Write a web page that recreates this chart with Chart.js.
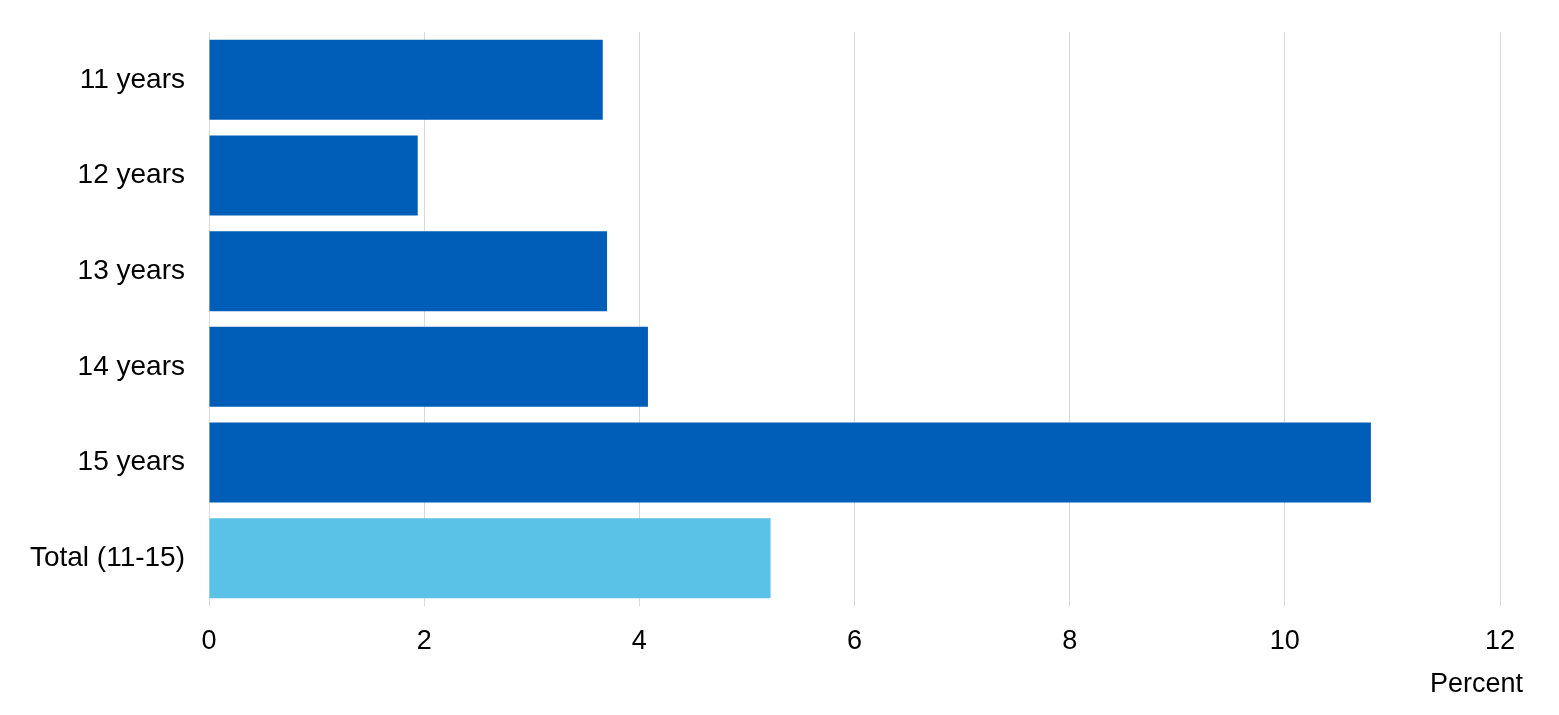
<!DOCTYPE html>
<html>
<head>
<meta charset="utf-8">
<script src="https://cdn.jsdelivr.net/npm/chart.js@4/dist/chart.umd.min.js"></script>
<style>
  html, body { margin: 0; padding: 0; background: #fff; }
  #wrap { width: 1559px; height: 715px; position: relative; }
</style>
</head>
<body>
<div id="wrap"><canvas id="c" width="1559" height="715"></canvas></div>
<script>
const categories = ["11 years", "12 years", "13 years", "14 years", "15 years", "Total (11-15)"];
const values = [3.66, 1.94, 3.70, 4.08, 10.80, 5.22];
const barColors = ["#005EB8", "#005EB8", "#005EB8", "#005EB8", "#005EB8", "#5BC2E7"];
const xTicks = [0, 2, 4, 6, 8, 10, 12];
const xTitle = "Percent";

const FONT = "'Liberation Sans', Arial, Helvetica, sans-serif";

const titlePlugin = {
  id: 'xTitle',
  afterDraw(chart) {
    const ctx = chart.ctx;
    const xs = chart.scales.x;
    ctx.save();
    ctx.font = "27px " + FONT;
    ctx.fillStyle = "#000";
    ctx.textAlign = "right";
    ctx.textBaseline = "middle";
    ctx.fillText(xTitle, xs.right + 23, 685);
    ctx.restore();
  }
};

new Chart(document.getElementById('c'), {
  type: 'bar',
  data: {
    labels: categories,
    datasets: [{
      data: values,
      backgroundColor: barColors,
      borderWidth: 0,
      categoryPercentage: 1.0,
      barPercentage: 0.837
    }]
  },
  options: {
    indexAxis: 'y',
    responsive: false,
    animation: false,
    devicePixelRatio: 1,
    layout: { padding: { top: 32, right: 59, bottom: 0, left: 0 } },
    plugins: { legend: { display: false }, tooltip: { enabled: false } },
    scales: {
      x: {
        min: 0, max: 12,
        afterBuildTicks(scale) { scale.ticks = xTicks.map(v => ({ value: v })); },
        afterFit(scale) { scale.height = 109; scale.paddingLeft = 0; scale.paddingRight = 0; },
        grid: { color: "#d9d9d9", lineWidth: 1, drawTicks: false },
        border: { display: false },
        ticks: { font: { family: FONT, size: 27 }, color: "#000", padding: 19 }
      },
      y: {
        afterFit(scale) { scale.width = 209; scale.paddingTop = 0; scale.paddingBottom = 0; },
        grid: { display: false, drawTicks: false },
        border: { display: false },
        ticks: { font: { family: FONT, size: 28 }, color: "#000", padding: 24 }
      }
    }
  },
  plugins: [titlePlugin]
});
</script>
</body>
</html>
